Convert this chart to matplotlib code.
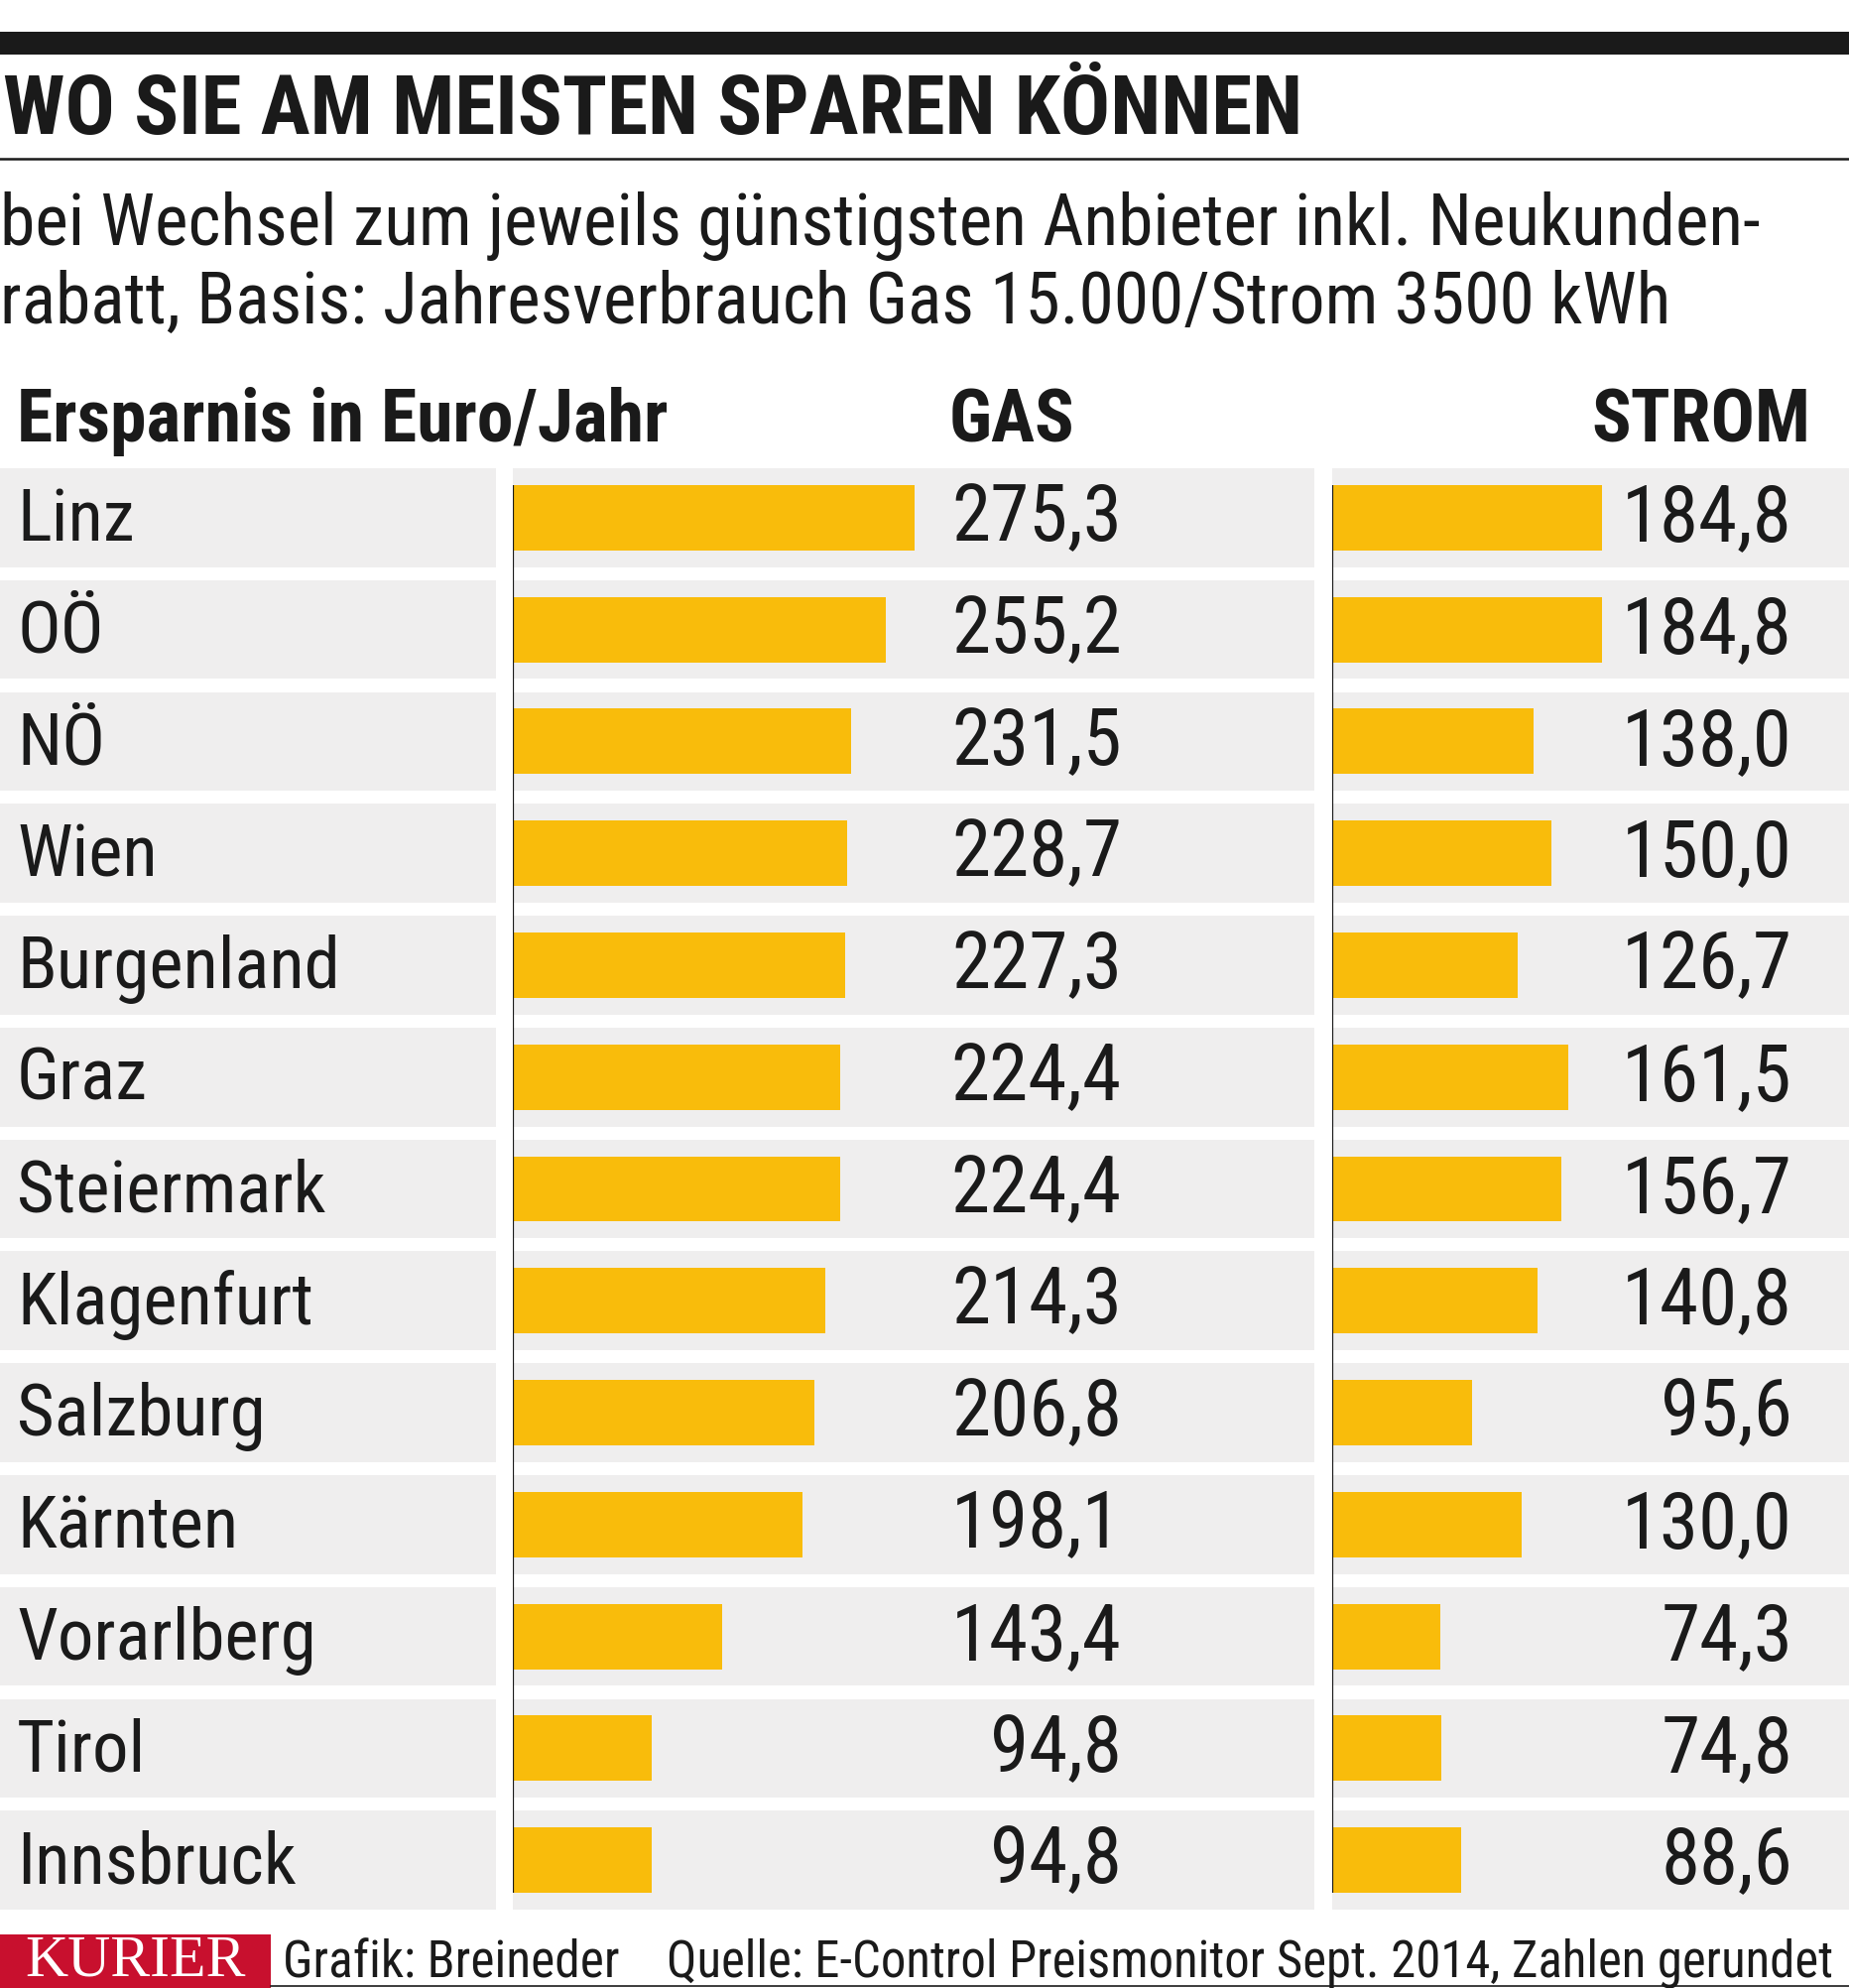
import matplotlib
matplotlib.use("Agg")
import matplotlib.pyplot as plt
from matplotlib import font_manager as fm

# data
regions = ["Linz", "OÖ", "NÖ", "Wien", "Burgenland", "Graz", "Steiermark",
           "Klagenfurt", "Salzburg", "Kärnten", "Vorarlberg", "Tirol", "Innsbruck"]
gas = [275.3, 255.2, 231.5, 228.7, 227.3, 224.4, 224.4, 214.3, 206.8, 198.1, 143.4, 94.8, 94.8]
strom = [184.8, 184.8, 138.0, 150.0, 126.7, 161.5, 156.7, 140.8, 95.6, 130.0, 74.3, 74.8, 88.6]

title = "WO SIE AM MEISTEN SPAREN KÖNNEN"
subtitle = ["bei Wechsel zum jeweils günstigsten Anbieter inkl. Neukunden-",
            "rabatt, Basis: Jahresverbrauch Gas 15.000/Strom 3500 kWh"]
col_label = "Ersparnis in Euro/Jahr"
col_gas = "GAS"
col_strom = "STROM"
credit = "Grafik: Breineder"
source = "Quelle: E-Control Preismonitor Sept. 2014, Zahlen gerundet"


def pick(names, default="DejaVu Sans"):
    for n in names:
        try:
            fm.findfont(fm.FontProperties(family=n), fallback_to_default=False)
            return n
        except Exception:
            pass
    return default


NARROW = pick(["Liberation Sans Narrow", "Roboto Condensed", "Open Sans Condensed"])
SERIF = pick(["Liberation Serif", "DejaVu Serif"])

YELLOW = "#F9BC0B"
GREY = "#EFEEEE"
INK = "#1a1a1a"

W, H = 1864, 2004
fig = plt.figure(figsize=(W / 100, H / 100), dpi=100)
fig.patch.set_facecolor("white")


def rect(x0, y0, x1, y1):
    # pixel box (top-left origin) -> figure fraction
    return [x0 / W, 1 - y1 / H, (x1 - x0) / W, (y1 - y0) / H]


def fy(y):
    return 1 - y / H


# header rules
fig.add_artist(plt.Rectangle((0, fy(55)), 1, 23 / H, transform=fig.transFigure,
                             color=INK, lw=0))
fig.add_artist(plt.Line2D([0, 1], [fy(160), fy(160)], transform=fig.transFigure,
                          color=INK, lw=1.8))

fig.text(3 / W, fy(135), title, family=NARROW, weight="bold", fontsize=60,
         color=INK, va="baseline")
fig.text(0 / W, fy(247), subtitle[0], family=NARROW, fontsize=51.5, color=INK, va="baseline")
fig.text(0 / W, fy(326), subtitle[1], family=NARROW, fontsize=51.5, color=INK, va="baseline")

fig.text(17 / W, fy(445), col_label, family=NARROW, weight="bold", fontsize=53,
         color=INK, va="baseline")
fig.text(957 / W, fy(445), col_gas, family=NARROW, weight="bold", fontsize=53,
         color=INK, va="baseline")
fig.text(1825 / W, fy(445), col_strom, family=NARROW, weight="bold", fontsize=53,
         color=INK, va="baseline", ha="right")

# rows
top, bottom = 472, 1925
n = len(regions)
half = 0.442
bar_h = 0.585
base_off = 0.206
px_per_unit = 1.4722


def setup(ax):
    ax.set_ylim(n - 1 + half, -half)
    ax.axis("off")
    for i in range(n):
        ax.axhspan(i - half, i + half, color=GREY, lw=0, zorder=0)


ax_lab = fig.add_axes(rect(0, top, 500, bottom))
ax_lab.set_xlim(0, 1)
setup(ax_lab)
for i, r in enumerate(regions):
    ax_lab.text(17 / 500, i + base_off, r, family=NARROW, fontsize=52.5, color=INK,
                va="baseline", ha="left")

for x0, x1, vals, lab_x in [(517, 1325, gas, 1131), (1343, 1864, strom, 1807)]:
    ax = fig.add_axes(rect(x0, top, x1, bottom))
    ax.set_xlim(0, (x1 - x0) / px_per_unit)
    setup(ax)
    ys = list(range(n))
    ax.barh(ys, vals, height=bar_h, color=YELLOW, lw=0, zorder=2)
    ax.plot([0, 0], [-bar_h / 2, n - 1 + bar_h / 2], color=INK, lw=1.6, zorder=3,
            solid_capstyle="butt")
    for i, v in enumerate(vals):
        ax.text((lab_x - x0) / (x1 - x0), i + base_off, f"{v:.1f}".replace(".", ","),
                transform=ax.get_yaxis_transform(), family=NARROW, fontsize=57,
                color=INK, va="baseline", ha="right")

# footer
fig.add_artist(plt.Rectangle((0, 0), 273 / W, 54 / H, transform=fig.transFigure,
                             color="#C8102E", lw=0))
fig.text(136 / W, fy(1991), "KURIER", family=SERIF, fontsize=43, color="white",
         ha="center", va="baseline")
fig.text(285 / W, fy(1993), credit, family=NARROW, fontsize=37, color=INK, va="baseline")
fig.text(1848 / W, fy(1993), source, family=NARROW, fontsize=36.5, color=INK,
         va="baseline", ha="right")
fig.add_artist(plt.Line2D([273 / W, 1], [fy(2002), fy(2002)], transform=fig.transFigure,
                          color=INK, lw=1.2))

fig.savefig("out.png", dpi=100, facecolor="white")
